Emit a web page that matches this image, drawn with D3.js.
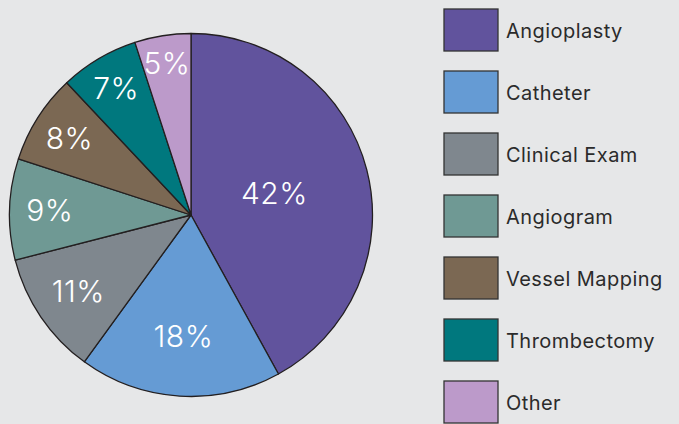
<!DOCTYPE html>
<html><head><meta charset="utf-8">
<script src="https://cdn.jsdelivr.net/npm/d3@7"></script>
<style>html,body{margin:0;padding:0;background:#e6e7e8;}svg{display:block;}</style>
</head><body>
<script>
const categories = ["Angioplasty","Catheter","Clinical Exam","Angiogram","Vessel Mapping","Thrombectomy","Other"];
const values = [42,18,11,9,8,7,5];
const colors = ["#61539d","#659bd4","#7f878e","#6f9994","#7b6853","#00787e","#bc9aca"];

const W=679,H=424;
const svg=d3.select("body").append("svg").attr("width",W).attr("height",H);
svg.append("rect").attr("width",W).attr("height",H).attr("fill","#e6e7e8");
const cx=191,cy=215,R=181.5;
const pie=d3.pie().sort(null).value(d=>d)(values);
const arc=d3.arc().innerRadius(0).outerRadius(R);
const g=svg.append("g").attr("transform",`translate(${cx},${cy})`);
g.selectAll("path").data(pie).join("path")
  .attr("d",arc).attr("fill",(d,i)=>colors[i])
  .attr("stroke","#231f20").attr("stroke-width",1.3).attr("stroke-linejoin","round");
const font="Inter, 'Open Sans', sans-serif";
g.selectAll("text").data(pie).join("text")
  .each(function(d){
    const a=(d.startAngle+d.endAngle)/2;
    const rf=1.04-0.0873*Math.sqrt(d.value);
    d3.select(this).attr("x",Math.sin(a)*R*rf).attr("y",-Math.cos(a)*R*rf);
  })
  .attr("text-anchor","middle").attr("dy","0.36em")
  .attr("fill","#fff").attr("font-family",font).attr("font-weight",300)
  .attr("font-size",30).attr("letter-spacing",0.5).text(d=>d.value+"%");

const y=d3.scaleBand().domain(categories).range([0,434]).paddingInner(0);
const lg=svg.append("g");
const rows=lg.selectAll("g").data(categories).join("g")
  .attr("transform",d=>`translate(0,${y(d)})`);
rows.append("rect").attr("x",444).attr("y",9).attr("width",54).attr("height",42)
  .attr("fill",(d,i)=>colors[i]).attr("stroke","#333").attr("stroke-width",1.3);
rows.append("text").attr("x",506).attr("y",37.5).attr("fill","#2b2b2b")
  .attr("font-family",font).attr("font-weight",400).attr("font-size",20)
  .attr("letter-spacing",0.45).text(d=>d);
</script>
</body></html>
